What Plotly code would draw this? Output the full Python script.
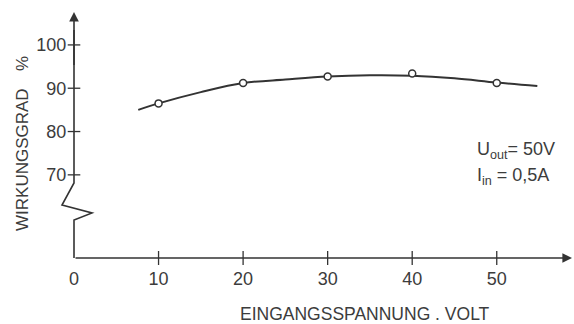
import plotly.graph_objects as go

# ---- data ----
meas_volt = [10, 20, 30, 40, 50]
meas_eff = [86.5, 91.2, 92.7, 93.4, 91.2]

curve_volt = [7.6, 10, 15, 20, 25, 30, 35, 40, 45, 50, 54.8]
curve_eff = [85.0, 86.5, 89.1, 91.2, 92.0, 92.7, 93.0, 92.9, 92.3, 91.3, 90.5]

x_tick_vals = [0, 10, 20, 30, 40, 50]
x_tick_text = ["0", "10", "20", "30", "40", "50"]
y_tick_vals = [70, 80, 90, 100]
y_tick_text = ["70", "80", "90", "100"]

# ---- layout geometry ----
W, H = 574, 324
L, R, T, B = 74, 2, 12, 66
XMAX = 58.9
YMIN, YMAX = 50.8, 107.6
INK = "#333333"
TXT = "#3c3c3c"
FONT = "Liberation Sans"

pw, ph = W - L - R, H - T - B


def px(xp):
    return (xp - L) / pw


def py(yp):
    return (H - B - yp) / ph


fig = go.Figure()

fig.add_trace(go.Scatter(
    x=curve_volt, y=curve_eff, mode="lines", line=dict(color=INK, width=2, shape="spline"),
    hoverinfo="skip", showlegend=False))
fig.add_trace(go.Scatter(
    x=meas_volt, y=meas_eff, mode="markers",
    marker=dict(symbol="circle", size=7, color="white", line=dict(color=INK, width=1.5)),
    showlegend=False))

# tick marks crossing the axes
fig.add_trace(go.Scatter(
    x=x_tick_vals[1:], y=[YMIN] * (len(x_tick_vals) - 1), mode="markers",
    marker=dict(symbol="line-ns", size=10, line=dict(color=INK, width=1.3)),
    cliponaxis=False, hoverinfo="skip", showlegend=False))
fig.add_trace(go.Scatter(
    x=[0] * len(y_tick_vals), y=y_tick_vals, mode="markers",
    marker=dict(symbol="line-ew", size=9, line=dict(color=INK, width=1.3)),
    cliponaxis=False, hoverinfo="skip", showlegend=False))

# y axis with break (zigzag)
zig = [(74, 258), (74, 220), (92, 213), (62, 205), (74, 183), (74, 30)]
path = "M " + " L ".join(f"{px(a):.5f},{py(b):.5f}" for a, b in zig)
fig.add_shape(type="path", path=path, xref="paper", yref="paper",
              line=dict(color=INK, width=1.6))

# arrows
fig.add_annotation(x=0, y=YMAX, ax=0, ay=95, xref="x", yref="y", axref="x", ayref="y",
                   text="", showarrow=True, arrowhead=2, arrowsize=1.2, arrowwidth=1.6,
                   arrowcolor=INK)
fig.add_annotation(x=XMAX, y=YMIN, ax=0, ay=YMIN, xref="x", yref="y", axref="x", ayref="y",
                   text="", showarrow=True, arrowhead=2, arrowsize=1.2, arrowwidth=1.6,
                   arrowcolor=INK)

# axis titles
fig.add_annotation(x=px(365), y=py(314), xref="paper", yref="paper", showarrow=False,
                   xanchor="center", yanchor="middle",
                   text="EINGANGSSPANNUNG . VOLT", font=dict(family=FONT, size=17.5, color=TXT))
fig.add_annotation(x=px(22), y=py(160), xref="paper", yref="paper", showarrow=False,
                   xanchor="center", yanchor="middle",
                   textangle=-90, text="WIRKUNGSGRAD", font=dict(family=FONT, size=17, color=TXT))
fig.add_annotation(x=px(22), y=py(64), xref="paper", yref="paper", showarrow=False,
                   xanchor="center", yanchor="middle",
                   textangle=-90, text="%", font=dict(family=FONT, size=17, color=TXT))

# conditions
fig.add_annotation(x=px(475), y=py(150), xref="paper", yref="paper", showarrow=False,
                   xanchor="left", yanchor="middle", text="U<sub>out</sub>= 50V",
                   font=dict(family=FONT, size=18, color=TXT))
fig.add_annotation(x=px(475), y=py(176), xref="paper", yref="paper", showarrow=False,
                   xanchor="left", yanchor="middle", text="I<sub>in</sub> = 0,5A",
                   font=dict(family=FONT, size=18, color=TXT))

fig.update_layout(
    width=W, height=H, margin=dict(l=L, r=R, t=T, b=B, autoexpand=False),
    paper_bgcolor="white", plot_bgcolor="white",
    font=dict(family=FONT, size=18, color=TXT),
    xaxis=dict(range=[0, XMAX], showgrid=False, zeroline=False, showline=False,
               automargin=False,
               tickvals=x_tick_vals, ticktext=x_tick_text, ticks="outside", ticklen=4,
               tickcolor="rgba(0,0,0,0)", tickfont=dict(size=18)),
    yaxis=dict(range=[YMIN, YMAX], showgrid=False, zeroline=False, showline=False,
               automargin=False,
               tickvals=y_tick_vals, ticktext=y_tick_text, ticks="outside", ticklen=3,
               tickcolor="rgba(0,0,0,0)", tickfont=dict(size=18)),
    showlegend=False,
)

fig.write_html("out.html", config={"displayModeBar": False},
               post_script="document.body.style.margin='0';document.body.style.overflow='hidden';")
